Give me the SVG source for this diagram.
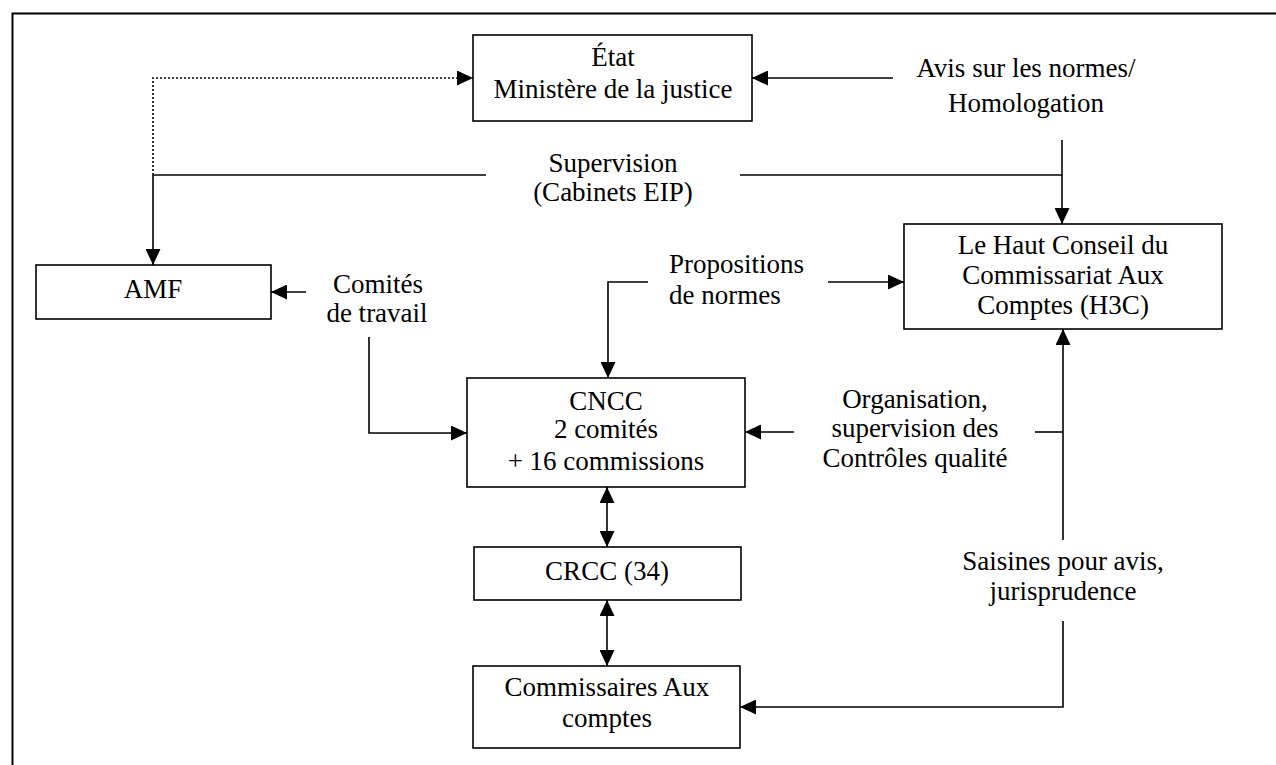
<svg xmlns="http://www.w3.org/2000/svg" width="1276" height="765" viewBox="0 0 1276 765">
<style>
.box{fill:#fff;stroke:#000;stroke-width:1.6}
.t{font-family:"Liberation Serif","Times New Roman",serif;font-size:27px;fill:#000;text-anchor:middle}
.c{fill:none;stroke:#000;stroke-width:1.6}
.dot{stroke-dasharray:2 2}
</style>
<defs>
<marker id="ah" markerUnits="userSpaceOnUse" markerWidth="16" markerHeight="15" refX="16" refY="7.5" orient="auto-start-reverse">
<path d="M0,0 L16,7.5 L0,15 z" fill="#000"/>
</marker>
</defs>
<rect width="1276" height="765" fill="#fff"/>
<g id="frame" fill="none" stroke="#000" stroke-width="2">
<path d="M12.5,765 V13.5 H1276"/>
</g>
<g id="connectors">
<path class="c dot" d="M153,175 V78 H473" marker-end="url(#ah)"/>
<path class="c" d="M153,175 H486"/>
<path class="c" d="M740,175 H1062"/>
<path class="c" d="M153,175 V265" marker-end="url(#ah)"/>
<path class="c" d="M1062,140 V224" marker-end="url(#ah)"/>
<path class="c" d="M893,78 H752" marker-end="url(#ah)"/>
<path class="c" d="M306,292 H271" marker-end="url(#ah)"/>
<path class="c" d="M369,337 V433 H467" marker-end="url(#ah)"/>
<path class="c" d="M648,282 H608 V378" marker-end="url(#ah)"/>
<path class="c" d="M828,282 H904" marker-end="url(#ah)"/>
<path class="c" d="M794,432 H745" marker-end="url(#ah)"/>
<path class="c" d="M1035,432 H1063"/>
<path class="c" d="M1063,540 V329" marker-end="url(#ah)"/>
<path class="c" d="M1063,621 V707 H740" marker-end="url(#ah)"/>
<path class="c" d="M607,487 V547" marker-start="url(#ah)" marker-end="url(#ah)"/>
<path class="c" d="M607,600 V666" marker-start="url(#ah)" marker-end="url(#ah)"/>
</g>
<g id="labels">
<text class="t" x="1026" y="77">Avis sur les normes/</text>
<text class="t" x="1026" y="112">Homologation</text>
<text class="t" x="613" y="172">Supervision</text>
<text class="t" x="613" y="201">(Cabinets EIP)</text>
<text class="t" x="378" y="293">Comités</text>
<text class="t" x="377" y="322">de travail</text>
<text class="t" x="669" y="273" style="text-anchor:start">Propositions</text>
<text class="t" x="669" y="304" style="text-anchor:start">de normes</text>
<text class="t" x="915" y="408">Organisation,</text>
<text class="t" x="915" y="437">supervision des</text>
<text class="t" x="915" y="467">Contrôles qualité</text>
<text class="t" x="1063" y="570">Saisines pour avis,</text>
<text class="t" x="1063" y="600">jurisprudence</text>
</g>
<g id="etat">
<rect class="box" x="473" y="35" width="279" height="86"/>
<text class="t" x="613" y="66">État</text>
<text class="t" x="613" y="98">Ministère de la justice</text>
</g>
<g id="amf">
<rect class="box" x="36" y="265" width="235" height="54"/>
<text class="t" x="153" y="298">AMF</text>
</g>
<g id="h3c">
<rect class="box" x="904" y="224" width="318" height="105"/>
<text class="t" x="1063" y="254">Le Haut Conseil du</text>
<text class="t" x="1063" y="284">Commissariat Aux</text>
<text class="t" x="1063" y="314">Comptes (H3C)</text>
</g>
<g id="cncc">
<rect class="box" x="467" y="378" width="278" height="109"/>
<text class="t" x="606" y="410">CNCC</text>
<text class="t" x="606" y="438">2 comités</text>
<text class="t" x="606" y="470">+ 16 commissions</text>
</g>
<g id="crcc">
<rect class="box" x="474" y="547" width="267" height="53"/>
<text class="t" x="607" y="580">CRCC (34)</text>
</g>
<g id="cac">
<rect class="box" x="473" y="666" width="267" height="82"/>
<text class="t" x="607" y="696">Commissaires Aux</text>
<text class="t" x="607" y="727">comptes</text>
</g>
</svg>
